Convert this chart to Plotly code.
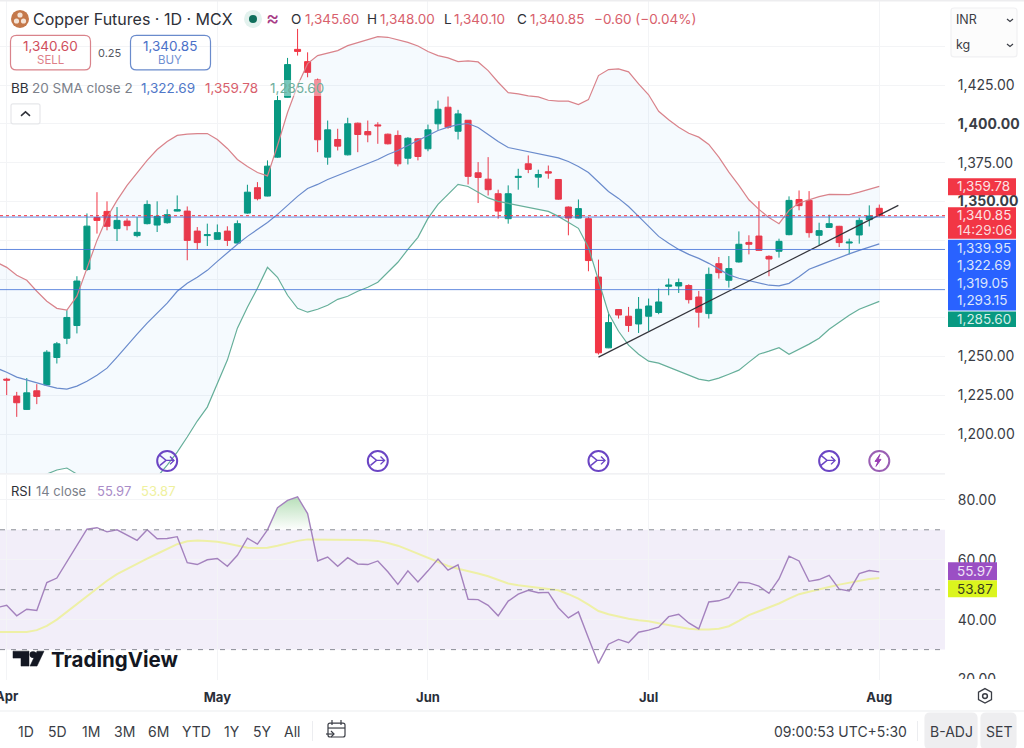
import plotly.graph_objects as go

# candles, oldest first (1 Apr .. 1 Aug)
opens = [1235.4, 1224.5, 1215.9, 1227.9, 1231.7, 1249.4, 1261.8, 1270.0, 1306.1, 1339.6,
         1343.6, 1332.5, 1337.4, 1328.0, 1335.7, 1334.8, 1336.3, 1343.8, 1343.8, 1330.9,
         1328.0, 1325.6, 1330.9, 1323.2, 1342.5, 1358.9, 1353.5, 1378.6, 1417.2, 1448.1,
         1440.2, 1428.4, 1378.6, 1390.0, 1380.1, 1400.5, 1395.1, 1399.4, 1393.4, 1392.6,
         1377.9, 1390.4, 1384.0, 1400.1, 1410.8, 1395.3, 1402.4, 1368.5, 1364.4, 1355.0,
         1338.9, 1365.5, 1374.3, 1365.7, 1369.2, 1364.2, 1346.4, 1339.3, 1338.9, 1301.3,
         1255.6, 1280.3, 1276.0, 1271.0, 1276.0, 1278.4, 1295.3, 1295.5, 1295.8, 1288.4,
         1277.7, 1309.9, 1299.2, 1311.0, 1323.6, 1327.7, 1314.6, 1317.9, 1328.6, 1351.3,
         1350.7, 1328.2, 1333.3, 1334.0, 1323.2, 1328.4, 1338.3, 1345.6]
highs = [1236.3, 1227.2, 1236.1, 1232.2, 1254.1, 1259.4, 1279.9, 1301.8, 1342.3, 1356.0,
         1350.1, 1346.4, 1339.1, 1339.9, 1350.7, 1350.1, 1344.9, 1353.9, 1346.8, 1333.5,
         1335.7, 1335.2, 1334.0, 1337.8, 1360.8, 1362.5, 1376.5, 1418.3, 1442.6, 1461.3,
         1446.2, 1429.3, 1402.2, 1396.9, 1404.0, 1400.9, 1402.2, 1401.1, 1393.8, 1395.8,
         1391.5, 1390.8, 1399.6, 1415.1, 1417.7, 1409.1, 1402.5, 1375.4, 1378.6, 1357.6,
         1360.4, 1371.1, 1379.7, 1370.5, 1373.2, 1364.5, 1346.8, 1351.3, 1339.9, 1312.5,
         1278.8, 1280.5, 1282.0, 1288.4, 1287.4, 1293.8, 1300.3, 1300.3, 1296.6, 1292.3,
         1307.4, 1314.2, 1314.8, 1330.7, 1328.2, 1350.2, 1315.3, 1326.0, 1353.3, 1357.1,
         1356.7, 1336.3, 1341.5, 1334.3, 1326.0, 1339.6, 1347.5, 1348.0]
lows = [1225.1, 1211.1, 1215.5, 1219.3, 1231.6, 1245.5, 1258.0, 1264.9, 1305.2, 1329.3,
        1331.4, 1324.5, 1331.4, 1326.9, 1335.2, 1330.3, 1335.7, 1343.6, 1312.1, 1318.9,
        1321.3, 1325.4, 1321.3, 1322.8, 1342.1, 1350.7, 1353.3, 1378.2, 1417.0, 1444.1,
        1430.1, 1381.8, 1373.7, 1382.9, 1379.7, 1381.8, 1388.2, 1387.2, 1386.8, 1372.6,
        1373.9, 1376.5, 1382.4, 1396.2, 1396.9, 1390.0, 1361.0, 1349.0, 1353.9, 1338.9,
        1335.7, 1357.6, 1368.3, 1358.9, 1364.7, 1351.1, 1328.2, 1339.1, 1305.0, 1251.3,
        1255.4, 1274.5, 1265.9, 1265.2, 1266.5, 1277.3, 1289.5, 1291.0, 1284.2, 1268.7,
        1274.5, 1300.3, 1294.5, 1310.6, 1315.9, 1318.3, 1301.8, 1313.8, 1328.2, 1344.3,
        1326.7, 1321.7, 1333.1, 1320.6, 1315.9, 1322.8, 1333.9, 1340.1]
closes = [1234.8, 1220.2, 1226.6, 1224.3, 1252.8, 1258.2, 1275.2, 1298.7, 1334.1, 1337.8,
          1334.0, 1337.8, 1334.4, 1330.1, 1348.1, 1340.4, 1341.5, 1344.7, 1324.9, 1323.5,
          1328.6, 1329.9, 1324.9, 1335.7, 1356.0, 1351.8, 1372.8, 1415.1, 1438.3, 1446.8,
          1433.3, 1389.8, 1396.2, 1385.7, 1400.1, 1393.2, 1393.0, 1398.8, 1387.2, 1374.3,
          1390.8, 1379.0, 1396.2, 1409.5, 1397.9, 1406.5, 1366.2, 1365.5, 1357.6, 1343.8,
          1355.0, 1366.2, 1370.7, 1367.4, 1368.3, 1351.5, 1339.3, 1345.4, 1311.9, 1252.4,
          1271.9, 1276.8, 1270.0, 1280.5, 1282.6, 1285.2, 1296.1, 1297.7, 1286.7, 1278.6,
          1303.0, 1304.1, 1306.7, 1322.4, 1322.4, 1318.5, 1312.9, 1324.3, 1350.7, 1347.3,
          1329.9, 1331.2, 1335.7, 1323.5, 1323.8, 1337.8, 1340.6, 1340.85]

# indicator series start one bar before the first visible candle
bb_upper = [1310.8, 1307.5, 1302.4, 1299.2, 1292.1, 1285.7, 1281.1, 1279.9, 1288.9, 1307.5,
            1324.9, 1339.7, 1350.7, 1360.4, 1368.7, 1376.5, 1383.5, 1388.7, 1392.6, 1393.5,
            1393.8, 1393.8, 1390.0, 1384.2, 1377.1, 1372.6, 1368.7, 1366.5, 1386.1, 1407.4,
            1424.8, 1438.9, 1444.1, 1445.6, 1447.3, 1450.5, 1452.6, 1454.4, 1456.3, 1455.9,
            1454.4, 1452.6, 1450.3, 1446.7, 1444.1, 1442.6, 1440.2, 1440.7, 1440.0, 1434.4,
            1426.9, 1420.2, 1419.4, 1418.1, 1417.5, 1415.3, 1414.7, 1414.7, 1412.5, 1415.7,
            1431.2, 1435.1, 1435.5, 1433.6, 1425.8, 1418.8, 1408.2, 1402.7, 1397.9, 1394.0,
            1391.5, 1386.8, 1378.6, 1368.9, 1360.4, 1351.1, 1344.9, 1339.6, 1335.7, 1344.3,
            1349.0, 1351.1, 1353.1, 1354.6, 1354.6, 1354.4, 1356.0, 1358.0, 1359.78]
bb_basis = [1242.5, 1239.9, 1236.7, 1234.8, 1232.8, 1231.2, 1229.6, 1229.0, 1230.9, 1234.1,
            1238.0, 1242.5, 1249.6, 1257.3, 1264.4, 1271.5, 1277.9, 1284.4, 1292.1, 1297.2,
            1301.1, 1305.6, 1311.4, 1317.2, 1322.4, 1327.5, 1332.0, 1336.5, 1341.7, 1347.5,
            1353.3, 1358.4, 1361.0, 1364.2, 1366.8, 1369.4, 1371.9, 1374.5, 1377.1, 1380.3,
            1382.9, 1386.1, 1389.3, 1392.6, 1395.8, 1398.0, 1399.6, 1400.3, 1397.7, 1393.2,
            1388.7, 1384.8, 1383.5, 1382.3, 1381.0, 1379.7, 1378.1, 1375.8, 1372.6, 1368.7,
            1362.9, 1356.5, 1352.0, 1346.8, 1340.4, 1334.0, 1327.5, 1323.0, 1319.1, 1315.9,
            1313.3, 1310.1, 1306.3, 1302.7, 1300.5, 1298.9, 1297.2, 1296.0, 1295.6, 1297.2,
            1301.4, 1306.3, 1308.8, 1311.4, 1314.0, 1316.2, 1318.5, 1320.4, 1322.69]
bb_lower = [1169.1, 1170.4, 1171.0, 1170.4, 1172.3, 1174.2, 1176.8, 1178.1, 1174.2, 1160.7,
            1151.0, 1145.3, 1148.5, 1154.3, 1160.1, 1166.5, 1172.3, 1180.0, 1188.4, 1198.1,
            1208.4, 1217.4, 1232.2, 1247.7, 1268.3, 1281.8, 1294.0, 1307.5, 1301.1, 1289.5,
            1281.1, 1278.6, 1280.5, 1283.1, 1286.9, 1288.9, 1292.1, 1294.7, 1297.9, 1304.3,
            1310.8, 1319.1, 1326.9, 1339.1, 1348.1, 1354.6, 1361.0, 1359.7, 1355.8, 1352.3,
            1350.1, 1348.8, 1347.5, 1346.2, 1344.9, 1343.6, 1340.4, 1336.5, 1332.7, 1320.4,
            1298.5, 1277.9, 1266.3, 1257.3, 1251.5, 1247.0, 1245.7, 1243.1, 1240.6, 1238.0,
            1235.4, 1234.3, 1236.1, 1238.6, 1241.2, 1246.4, 1251.5, 1253.5, 1255.7, 1251.5,
            1254.7, 1258.0, 1261.8, 1267.6, 1272.1, 1276.6, 1280.5, 1283.1, 1285.6]
rsi = [44.0, 44.8, 41.3, 43.5, 43.1, 52.4, 53.9, 59.3, 64.5, 70.2,
       70.7, 69.3, 70.0, 68.2, 66.5, 70.0, 67.0, 67.1, 67.7, 59.0,
       58.4, 60.0, 60.4, 57.8, 61.5, 67.2, 65.2, 70.0, 77.4, 79.8,
       81.0, 75.4, 59.6, 60.9, 57.8, 60.7, 58.6, 58.4, 59.6, 56.0,
       51.8, 56.3, 52.6, 56.3, 60.2, 56.5, 58.3, 46.8, 46.7, 44.8,
       41.3, 46.2, 48.5, 49.8, 49.0, 49.1, 44.0, 40.6, 42.6, 33.9,
       25.4, 31.8, 33.4, 32.3, 35.8, 36.5, 37.5, 41.0, 41.8, 38.9,
       36.9, 45.9, 46.3, 47.4, 52.5, 52.3, 51.2, 48.8, 53.6, 61.2,
       59.6, 52.8, 53.4, 54.8, 50.2, 49.6, 55.4, 56.4, 55.97]
rsi_ma = [35.9, 35.9, 35.8, 35.9, 36.5, 37.9, 40.0, 42.6, 45.2, 47.8,
          50.4, 53.0, 55.2, 57.0, 58.7, 60.4, 62.0, 63.7, 65.2, 66.2,
          66.4, 66.3, 66.0, 65.4, 64.6, 64.0, 63.9, 64.0, 64.7, 65.6,
          66.3, 66.8, 66.8, 66.7, 66.7, 66.7, 66.6, 66.5, 66.3, 65.6,
          64.7, 63.4, 62.0, 60.7, 59.3, 57.9, 57.0, 56.3, 55.4, 54.5,
          53.4, 52.1, 51.5, 51.1, 50.7, 50.3, 49.8, 48.5, 47.0, 45.0,
          42.9, 41.8, 41.0, 40.3, 39.8, 39.5, 38.8, 38.2, 37.6, 37.0,
          36.7, 36.7, 37.0, 37.8, 39.6, 41.5, 42.8, 44.1, 45.4, 47.0,
          48.5, 49.3, 50.2, 50.9, 51.7, 52.3, 53.0, 53.6, 53.87]

# part of the RSI above the overbought line
overbought_x = [26, 27, 28, 29, 30, 30.34]
overbought_y = [70.0, 77.4, 79.8, 81.0, 75.4, 70.0]

trend_x = [59, 88.9]
trend_y = [1249.6, 1347.5]

price_levels = [1339.95, 1319.05, 1293.15]
last_price = 1340.85

event_x = [16, 37, 59, 82, 87]
event_y = [1182.6, 1182.6, 1182.6, 1182.6, 1182.6]
event_colors = ["#6B45C4", "#6B45C4", "#6B45C4", "#6B45C4", "#9A5FB4"]

price_ticks = [1200, 1225, 1250, 1275, 1300, 1325, 1350, 1375, 1400, 1425, 1450]
price_tick_text = ["1,200.00", "1,225.00", "1,250.00", "", "", "", "<b>1,350.00</b>", "1,375.00",
                   "<b>1,400.00</b>", "1,425.00", ""]
rsi_ticks = [20, 40, 60, 80]
rsi_tick_text = ["20.00", "40.00", "60.00", "80.00"]
month_ticks = [0, 21, 42, 64, 87]
month_text = ["", "<b>May</b>", "<b>Jun</b>", "<b>Jul</b>", "<b>Aug</b>"]

W, H = 1024, 748
LAYOUT_H = 754  # the page came out about 6px short with 748
FONT = "Inter"
GREEN = "#089981"
RED = "#F23645"
GRID = "#F3F4F6"
TEXT = "#2E3038"
MUTED = "#7B7F8A"
SOFT_RED = "#D8606C"
SOFT_BLUE = "#5077C8"
SOFT_GREEN = "#6FAE9C"


def px(x):
    return x / W


def py(y):
    return 1 - y / H


def label(text, x, y, size=13, color=TEXT, anchor="left", bg=None):
    fig.add_annotation(text=text, x=px(x), y=py(y), xref="paper", yref="paper", showarrow=False,
                       xanchor=anchor, yanchor="middle", borderpad=0, borderwidth=0,
                       bgcolor=bg, font=dict(family=FONT, size=size, color=color))


def box(x0, y0, x1, y1, fill, line=None, layer="above"):
    fig.add_shape(type="rect", xref="paper", yref="paper", x0=px(x0), x1=px(x1), y0=py(y0), y1=py(y1),
                  fillcolor=fill, line=dict(color=line or fill, width=1 if line else 0), layer=layer)


def round_box(x0, y0, x1, y1, r, line, fill="rgba(255,255,255,0)"):
    p = (f"M {px(x0 + r)} {py(y0)} L {px(x1 - r)} {py(y0)} Q {px(x1)} {py(y0)} {px(x1)} {py(y0 + r)} "
         f"L {px(x1)} {py(y1 - r)} Q {px(x1)} {py(y1)} {px(x1 - r)} {py(y1)} "
         f"L {px(x0 + r)} {py(y1)} Q {px(x0)} {py(y1)} {px(x0)} {py(y1 - r)} "
         f"L {px(x0)} {py(y0 + r)} Q {px(x0)} {py(y0)} {px(x0 + r)} {py(y0)} Z")
    fig.add_shape(type="path", xref="paper", yref="paper", path=p, fillcolor=fill,
                  line=dict(color=line, width=1.2), layer="above")


def poly(points, color, width=1.4, fill=None, close=False):
    p = "M " + " L ".join(f"{px(x)} {py(y)}" for x, y in points) + (" Z" if close else "")
    fig.add_shape(type="path", xref="paper", yref="paper", path=p, fillcolor=fill,
                  line=dict(color=color, width=width), layer="above")


def dot(x, y, r, fill, line=None):
    fig.add_shape(type="circle", xref="paper", yref="paper", x0=px(x - r), x1=px(x + r),
                  y0=py(y + r), y1=py(y - r), fillcolor=fill,
                  line=dict(color=line or fill, width=1.5 if line else 0), layer="above")


candle_x = list(range(len(opens)))
line_x = list(range(-1, len(opens)))

fig = go.Figure()

fig.add_trace(go.Scatter(x=line_x, y=bb_upper, mode="lines", line=dict(color="#D9838B", width=1.2)))
fig.add_trace(go.Scatter(x=line_x, y=bb_lower, mode="lines", line=dict(color="#66AF9A", width=1.2),
                         fill="tonexty", fillcolor="rgba(33,150,243,0.045)"))
fig.add_trace(go.Scatter(x=line_x, y=bb_basis, mode="lines", line=dict(color="#6A8BCC", width=1.2)))

for level in price_levels:
    fig.add_hline(y=level, line=dict(color="#3F6FD8", width=1), yref="y", opacity=0.8)
fig.add_hline(y=last_price, line=dict(color=RED, width=1, dash="dot"), yref="y")

fig.add_trace(go.Candlestick(x=candle_x, open=opens, high=highs, low=lows, close=closes, whiskerwidth=0,
                             increasing=dict(line=dict(color=GREEN, width=1), fillcolor=GREEN),
                             decreasing=dict(line=dict(color=RED, width=1), fillcolor=RED)))
fig.add_trace(go.Scatter(x=trend_x, y=trend_y, mode="lines", line=dict(color="#33333A", width=1.2)))
fig.add_trace(go.Scatter(x=event_x, y=event_y, mode="markers",
                         marker=dict(symbol="circle-open", size=20, color=event_colors, line=dict(width=2))))

# RSI pane
fig.add_shape(type="rect", xref="x", yref="y2", x0=-0.67, x1=93.6, y0=30, y1=70,
              fillcolor="rgba(126,87,194,0.1)", line=dict(width=0), layer="below")
for level in [70, 50, 30]:
    fig.add_hline(y=level, line=dict(color="#8A8D96", width=1, dash="5px,6px"), yref="y2")
fig.add_trace(go.Scatter(x=overbought_x, y=overbought_y, mode="none", fill="toself", xaxis="x", yaxis="y2",
                         fillgradient=dict(type="vertical", start=70, stop=81,
                                           colorscale=[[0, "rgba(76,175,80,0)"], [1, "rgba(76,175,80,0.4)"]])))
fig.add_trace(go.Scatter(x=line_x, y=rsi_ma, mode="lines", xaxis="x", yaxis="y2",
                         line=dict(color="#EEF0A6", width=2)))
fig.add_trace(go.Scatter(x=line_x, y=rsi, mode="lines", xaxis="x", yaxis="y2",
                         line=dict(color="#A482BE", width=1.4)))

fig.update_layout(
    width=W, height=LAYOUT_H, margin=dict(l=0, r=0, t=0, b=0), showlegend=False,
    paper_bgcolor="white", plot_bgcolor="white", boxgap=0.4, boxgroupgap=0,
    font=dict(family=FONT, size=13, color="#3A3D45"),
    xaxis=dict(domain=[0, 945 / W], range=[-0.668, 93.55], anchor="y2", rangeslider=dict(visible=False),
               tickmode="array", tickvals=month_ticks, ticktext=month_text, showgrid=True, gridcolor=GRID,
               zeroline=False, showline=False, ticks="outside", ticklen=5, tickcolor="rgba(0,0,0,0)",
               tickfont=dict(size=13, color="#2A2E39", family=FONT)),
    yaxis=dict(domain=[1 - 474 / H, 1], range=[1174.65, 1479.95], side="right", anchor="x",
               tickmode="array", tickvals=price_ticks, ticktext=price_tick_text, showgrid=True, gridcolor=GRID,
               zeroline=False, showline=False, ticks="outside", ticklen=9, tickcolor="rgba(0,0,0,0)",
               tickfont=dict(size=14, color="#3A3D45", family=FONT)),
    yaxis2=dict(domain=[1 - 681 / H, 1 - 476 / H], range=[19.83, 88.17], side="right", anchor="x",
                tickmode="array", tickvals=rsi_ticks, ticktext=rsi_tick_text, showgrid=True, gridcolor=GRID,
                zeroline=False, showline=False, ticks="outside", ticklen=9, tickcolor="rgba(0,0,0,0)",
                tickfont=dict(size=14, color="#3A3D45", family=FONT)),
)

# separators and frame
box(0, 474, 945, 475.2, "#ECEDF0")
box(0, 711.5, W, 712.5, "#ECEDF0")
box(0, 0, W, 1.5, "#EDEDEF")
box(950, 680, 1020, 688, "white")

label("<b>Apr</b>", 7, 697, size=13, color="#2A2E39", anchor="center")

# header
dot(20, 19, 9, "#C4784A")
dot(16.5, 21, 2.6, "#F4E3D6")
dot(23.5, 21, 2.6, "#F4E3D6")
dot(20, 15, 2.6, "#F4E3D6")
label("Copper Futures · 1D · MCX", 33, 19, size=16, color="#2E3038")
dot(253, 19, 9, "#E3F2EE")
dot(253, 19, 4, "#0F6F5C")
label("≈", 266, 18, size=20, color="#A83C86")
for name, x_name, value, x_value in [("O", 291, "1,345.60", 305), ("H", 367, "1,348.00", 380),
                                      ("L", 444, "1,340.10", 454), ("C", 517, "1,340.85", 530)]:
    label(name, x_name, 19, size=13.5, color=TEXT)
    label(value, x_value, 19, size=13.5, color=SOFT_RED)
label("−0.60 (−0.04%)", 594, 19, size=13.5, color=SOFT_RED)

# sell / buy
round_box(10.5, 35.5, 90.5, 70, 6, "#D9838B")
label("1,340.60", 50, 46, size=13.5, color="#D04E5C", anchor="center")
label("SELL", 50, 60, size=11.5, color="#DE7F89", anchor="center")
label("0.25", 110, 53, size=11, color="#55585F", anchor="center")
round_box(130.5, 35.5, 210.5, 70, 6, "#6A8BCC")
label("1,340.85", 170, 46, size=13.5, color="#4A70C8", anchor="center")
label("BUY", 170, 60, size=11.5, color="#6F8FD2", anchor="center")

# BB legend
label("BB", 11, 88, size=13.5, color=TEXT)
label("20 SMA close 2", 32, 88, size=13.5, color=MUTED)
label("1,322.69", 141, 88, size=13.5, color=SOFT_BLUE)
label("1,359.78", 205, 88, size=13.5, color=SOFT_RED)
label("1,285.60", 270, 88, size=13.5, color=SOFT_GREEN, bg="rgba(255,255,255,0.45)")
round_box(11, 104, 40, 124, 2, "#E6E7EA", fill="white")
poly([(21, 116), (25.5, 112), (30, 116)], "#2E3038", width=1.5)

# currency / unit selector
round_box(951, 8, 1017, 57, 3, "#F0F0F2", fill="#FCFCFC")
label("INR", 956, 20, size=12.5, color="#3A3D45")
label("kg", 956, 45, size=12.5, color="#3A3D45")
poly([(1007, 19), (1010, 21.5), (1013, 19)], "#3A3D45", width=1.2)
poly([(1007, 44), (1010, 46.5), (1013, 44)], "#3A3D45", width=1.2)

# price scale labels
box(948, 178.5, 1016, 195.5, RED)
label("1,359.78", 957, 186.5, size=13.5, color="#FBE3E5")
box(948, 207.5, 1016, 239, RED)
label("1,340.85", 957, 215.5, size=13.5, color="#FBE3E5")
label("14:29:06", 957, 230.5, size=13.5, color="#FBD9DC")
box(948, 240, 1016, 311, "#2962FF")
for y, text in [(248, "1,339.95"), (265.5, "1,322.69"), (283, "1,319.05"), (300.5, "1,293.15")]:
    label(text, 957, y, size=13.5, color="#DDE6FB")
box(948, 312, 1016, 327.5, GREEN)
label("1,285.60", 957, 319, size=13.5, color="#D5EEE8")

# event glyphs
for x in [167, 377.5, 598, 828]:
    poly([(x - 7, 456), (x - 1, 461), (x + 7, 461)], "#6B45C4")
    poly([(x - 7, 466), (x - 1, 461)], "#6B45C4")
    poly([(x + 3, 457), (x + 7, 461), (x + 3, 465)], "#6B45C4")
poly([(880, 455), (875, 462), (878, 462), (876, 467), (881, 460), (878, 460)], "#9A3FB4", width=1, fill="#9A3FB4", close=True)

# RSI legend and scale labels
label("RSI", 11, 492, size=13, color=TEXT)
label("14 close", 36, 492, size=13, color=MUTED)
label("55.97", 97, 492, size=13, color="#A98CC8")
label("53.87", 141, 492, size=13, color="#EFF19E")
box(948, 563, 997, 581, "#9B4FC4")
label("55.97", 957, 572, size=13.5, color="#EFE3F6")
box(948, 581, 997, 598, "#DBF51E")
label("53.87", 957, 590, size=13.5, color="#3A3D20")

# TradingView mark
poly([(13, 652), (29, 652), (29, 667), (21, 667), (21, 659), (13, 659)], "#131722", width=0.5, fill="#131722", close=True)
dot(33, 655.5, 3.4, "#131722")
poly([(37, 652), (44, 652), (37, 667), (30, 667)], "#131722", width=0.5, fill="#131722", close=True)
label("<b>TradingView</b>", 51, 660, size=20.5, color="#131722")

# bottom toolbar
for x, text in [(26, "1D"), (57, "5D"), (91, "1M"), (124, "3M"), (158, "6M"), (196, "YTD"),
                (232, "1Y"), (262, "5Y"), (292, "All")]:
    label(text, x, 732, size=14, color="#3A3D45", anchor="center")
box(312, 722, 313, 742, "#ECEDF0")
round_box(328, 724, 345, 738, 2, "#3A3D45")
poly([(328, 729), (345, 729)], "#3A3D45", width=1.2)
poly([(332, 721), (332, 726)], "#3A3D45", width=1.2)
poly([(341, 721), (341, 726)], "#3A3D45", width=1.2)
poly([(326, 735), (334, 735)], "#3A3D45", width=1.2)
poly([(331, 732), (334, 735), (331, 738)], "#3A3D45", width=1.2)
label("09:00:53 UTC+5:30", 907, 732, size=14, color="#3A3D45", anchor="right")
box(917, 722, 918, 742, "#ECEDF0")
round_box(925, 714, 977, 750, 5, "#EEEEF0", fill="#EEEEF0")
label("B-ADJ", 951, 732, size=14, color="#3A3D45", anchor="center")
round_box(981, 714, 1016, 750, 5, "#EEEEF0", fill="#EEEEF0")
label("SET", 998.5, 732, size=14, color="#3A3D45", anchor="center")

# scale settings icon
poly([(985, 689.5), (991.5, 693), (991.5, 700.5), (985, 704), (978.5, 700.5), (978.5, 693)], "#3A3D45", width=1.3, close=True)
dot(985, 697, 2.4, "white", line="#3A3D45")

fig.write_html("out.html", config=dict(displayModeBar=False),
               post_script="document.body.style.margin='0';")
